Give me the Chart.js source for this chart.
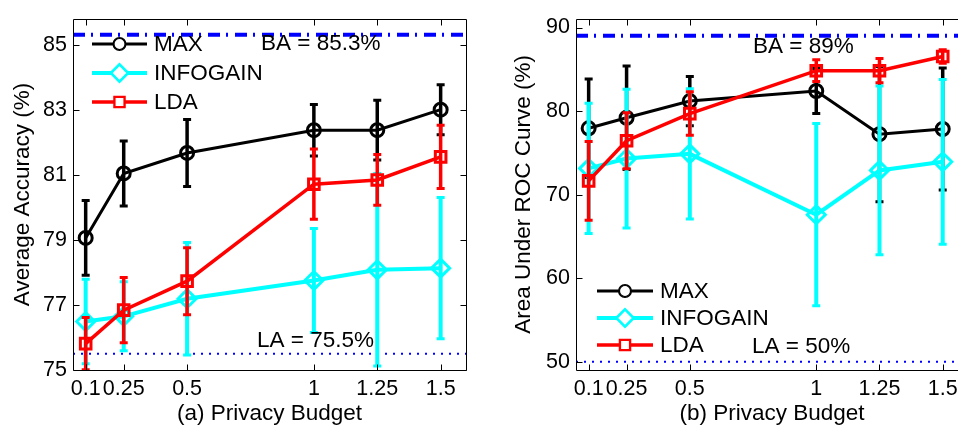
<!DOCTYPE html>
<html>
<head>
<meta charset="utf-8">
<script src="https://cdn.jsdelivr.net/npm/chart.js@4.4.0/dist/chart.umd.min.js"></script>
<style>
  html, body { margin: 0; padding: 0; background: #fff; }
  #wrap { position: relative; width: 958px; height: 426px; overflow: hidden; }
  canvas { position: absolute; top: 0; }
</style>
</head>
<body>
<div id="wrap">
  <canvas id="chartA" width="480" height="426" style="left:0"></canvas>
  <canvas id="chartB" width="500" height="426" style="left:480px"></canvas>
</div>
<script>
// privacy budget values (x axis)
const budget = [0.1, 0.25, 0.5, 1, 1.25, 1.5];
const budgetLabels = ['0.1', '0.25', '0.5', '1', '1.25', '1.5'];
const seriesNames = ['MAX', 'INFOGAIN', 'LDA'];

// (a) average accuracy (%)
const accMax = [79.06, 81.04, 81.67, 82.37, 82.37, 83.0];
const accMaxErr = [1.15, 1.0, 1.03, 0.79, 0.92, 0.77];
const accInfo = [76.49, 76.65, 77.19, 77.75, 78.08, 78.13];
const accInfoErr = [1.3, 1.06, 1.73, 1.6, 2.96, 2.17];
const accLda = [75.81, 76.84, 77.73, 80.71, 80.84, 81.55];
const accLdaErr = [0.8, 1.0, 1.03, 1.08, 0.78, 0.97];
const accBA = 85.3, accLA = 75.5;
const accTicks = [75, 77, 79, 81, 83, 85];

// (b) area under ROC curve (%)
const aucMax = [77.94, 79.2, 81.2, 82.4, 77.24, 77.86];
const aucMaxErr = [5.9, 6.2, 2.95, 2.7, 8.1, 7.3];
const aucInfo = [73.14, 74.32, 74.88, 67.6, 72.9, 73.93];
const aucInfoErr = [7.8, 8.3, 7.8, 10.9, 10.1, 9.85];
const aucLda = [71.65, 76.45, 79.7, 84.83, 84.83, 86.53];
const aucLdaErr = [4.7, 3.35, 2.6, 1.3, 1.45, 0.8];
const aucBA = 89, aucLA = 50;
const aucTicks = [50, 60, 70, 80, 90];

const FONT = '"Liberation Sans", Arial, Helvetica, sans-serif';
const TEXT_SIZE = 22.5, TICK_SIZE = 21.5;
const styles = [
  { color: '#000000', point: 'circle', radius: 6.5, width: 3, errWidth: 3.5 },
  { color: '#00ffff', point: 'rectRot', radius: 9, width: 4, errWidth: 4 },
  { color: '#ff0000', point: 'rect', radius: 7.5, width: 3.5, errWidth: 3.5 }
];

const pts = (ys) => ys.map((y, i) => ({ x: budget[i], y: y }));

// vertical error bars, drawn just before each series' own line
const errorBars = {
  id: 'errorBars',
  beforeDatasetDraw(chart, args) {
    const ds = chart.data.datasets[args.index];
    if (!ds.errors) return;
    const { ctx, chartArea: a, scales: { x, y } } = chart;
    ctx.save();
    ctx.beginPath();
    ctx.rect(a.left, a.top, a.right - a.left, a.bottom - a.top);
    ctx.clip();
    ctx.strokeStyle = ds.borderColor;
    ds.data.forEach((p, i) => {
      const px = x.getPixelForValue(p.x);
      const hi = y.getPixelForValue(p.y + ds.errors[i]);
      const lo = y.getPixelForValue(p.y - ds.errors[i]);
      ctx.lineWidth = ds.errWidth;
      ctx.beginPath();
      ctx.moveTo(px, hi); ctx.lineTo(px, lo);
      ctx.stroke();
      ctx.lineWidth = 3;
      ctx.beginPath();
      ctx.moveTo(px - 4, hi); ctx.lineTo(px + 4, hi);
      ctx.moveTo(px - 4, lo); ctx.lineTo(px + 4, lo);
      ctx.stroke();
    });
    ctx.restore();
  }
};

// matlab style box, inward ticks, legend and notes
const matlabBox = {
  id: 'matlabBox',
  afterDraw(chart, args, opts) {
    const { ctx, chartArea: a, scales: { x, y } } = chart;
    ctx.save();
    ctx.strokeStyle = '#000';
    ctx.lineWidth = 1;
    const L = Math.round(a.left) + 0.5, R = Math.round(a.right) + 0.5;
    const T = Math.round(a.top) + 0.5, B = Math.round(a.bottom) + 0.5;
    ctx.beginPath();
    ctx.rect(L, T, R - L, B - T);
    x.ticks.forEach(t => {
      const px = Math.round(x.getPixelForValue(t.value)) + 0.5;
      ctx.moveTo(px, B); ctx.lineTo(px, B - 6);
      ctx.moveTo(px, T); ctx.lineTo(px, T + 6);
    });
    y.ticks.forEach(t => {
      const py = Math.round(y.getPixelForValue(t.value)) + 0.5;
      ctx.moveTo(L, py); ctx.lineTo(L + 6, py);
      ctx.moveTo(R, py); ctx.lineTo(R - 6, py);
    });
    ctx.stroke();

    ctx.font = TEXT_SIZE + 'px ' + FONT;
    ctx.fillStyle = '#000';
    ctx.textBaseline = 'middle';
    ctx.textAlign = 'left';
    const lg = opts.legend;
    seriesNames.forEach((name, i) => {
      const s = styles[i], ly = lg.rows[i], mx = (lg.x0 + lg.x1) / 2;
      ctx.strokeStyle = s.color;
      ctx.lineWidth = s.width;
      ctx.beginPath();
      ctx.moveTo(lg.x0, ly); ctx.lineTo(lg.x1, ly);
      ctx.stroke();
      Chart.helpers.drawPoint(ctx, {
        pointStyle: s.point, radius: s.radius * 0.85, borderWidth: 1, rotation: 0
      }, mx, ly);
      ctx.fillStyle = '#fff';
      ctx.lineWidth = 1.2;
      ctx.fill();
      ctx.stroke();
      ctx.fillStyle = '#000';
      ctx.fillText(name, lg.xText, ly + 1);
    });
    opts.notes.forEach(n => ctx.fillText(n.text, n.x, n.y));
    ctx.restore();
  }
};

function makeChart(id, cfg) {
  const series = cfg.series.map((ys, i) => ({
    label: seriesNames[i],
    data: pts(ys),
    errors: cfg.errors[i],
    errWidth: styles[i].errWidth,
    borderColor: styles[i].color,
    backgroundColor: 'rgba(0,0,0,0)',
    borderWidth: styles[i].width,
    pointStyle: styles[i].point,
    pointRadius: styles[i].radius,
    pointBorderWidth: 3,
    pointBackgroundColor: 'rgba(0,0,0,0)',
    pointBorderColor: styles[i].color,
    tension: 0,
    order: 3 - i
  }));
  const refLine = (v, dash, w) => ({
    data: [{ x: cfg.xMin, y: v }, { x: cfg.xMax, y: v }],
    borderColor: '#0000ff',
    borderWidth: w,
    borderDash: dash,
    pointRadius: 0,
    order: 10
  });
  return new Chart(document.getElementById(id), {
    type: 'line',
    data: { datasets: [refLine(cfg.ba, [12, 6, 2, 7], 4), refLine(cfg.la, [2, 6], 2)].concat(series) },
    options: {
      responsive: false,
      animation: false,
      layout: { padding: { left: 0, right: cfg.padRight, top: 14, bottom: 0 } },
      plugins: {
        legend: { display: false },
        tooltip: { enabled: false },
        matlabBox: { legend: cfg.legend, notes: cfg.notes }
      },
      scales: {
        x: {
          type: 'linear',
          min: cfg.xMin, max: cfg.xMax,
          afterBuildTicks: s => { s.ticks = budget.map(v => ({ value: v })); },
          afterFit: s => { s.height = 56; },
          grid: { display: false, drawTicks: false },
          border: { display: false },
          ticks: {
            padding: 6,
            color: '#000',
            maxRotation: 0,
            autoSkip: false,
            font: { family: FONT, size: TICK_SIZE },
            callback: v => budgetLabels[budget.indexOf(v)]
          },
          title: {
            display: true, text: cfg.xTitle, color: '#000',
            font: { family: FONT, size: TEXT_SIZE }, padding: { top: 0, bottom: -1 }
          }
        },
        y: {
          min: cfg.yMin, max: cfg.yMax,
          afterBuildTicks: s => { s.ticks = cfg.yTicks.map(v => ({ value: v })); },
          afterFit: s => { s.width = cfg.yWidth; },
          grid: { display: false, drawTicks: false },
          border: { display: false },
          ticks: { padding: 6, color: '#000', font: { family: FONT, size: TICK_SIZE } },
          title: {
            display: true, text: cfg.yTitle, color: '#000',
            font: { family: FONT, size: TEXT_SIZE }, padding: { top: cfg.yTitlePad, bottom: 0 }
          }
        }
      }
    },
    plugins: [errorBars, matlabBox]
  });
}

makeChart('chartA', {
  series: [accMax, accInfo, accLda],
  errors: [accMaxErr, accInfoErr, accLdaErr],
  ba: accBA, la: accLA,
  xMin: 0.05, xMax: 1.6,
  yMin: 75, yMax: 85.79, yTicks: accTicks,
  yWidth: 73, yTitlePad: 9.5, padRight: 14,
  xTitle: '(a) Privacy Budget',
  yTitle: 'Average Accuracy (%)',
  legend: { x0: 92, x1: 147, xText: 154, rows: [44, 73, 102] },
  notes: [
    { text: 'BA = ' + accBA + '%', x: 261, y: 44 },
    { text: 'LA = ' + accLA + '%', x: 257, y: 341 }
  ]
});

makeChart('chartB', {
  series: [aucMax, aucInfo, aucLda],
  errors: [aucMaxErr, aucInfoErr, aucLdaErr],
  ba: aucBA, la: aucLA,
  xMin: 0.05, xMax: 1.6,
  yMin: 49.02, yMax: 91.03, yTicks: aucTicks,
  yWidth: 96, yTitlePad: 30, padRight: 11,
  xTitle: '(b) Privacy Budget',
  yTitle: 'Area Under ROC Curve (%)',
  legend: { x0: 117, x1: 173, xText: 180, rows: [291, 318, 345] },
  notes: [
    { text: 'BA = ' + aucBA + '%', x: 273, y: 47 },
    { text: 'LA = ' + aucLA + '%', x: 272, y: 347 }
  ]
});
</script>
</body>
</html>
